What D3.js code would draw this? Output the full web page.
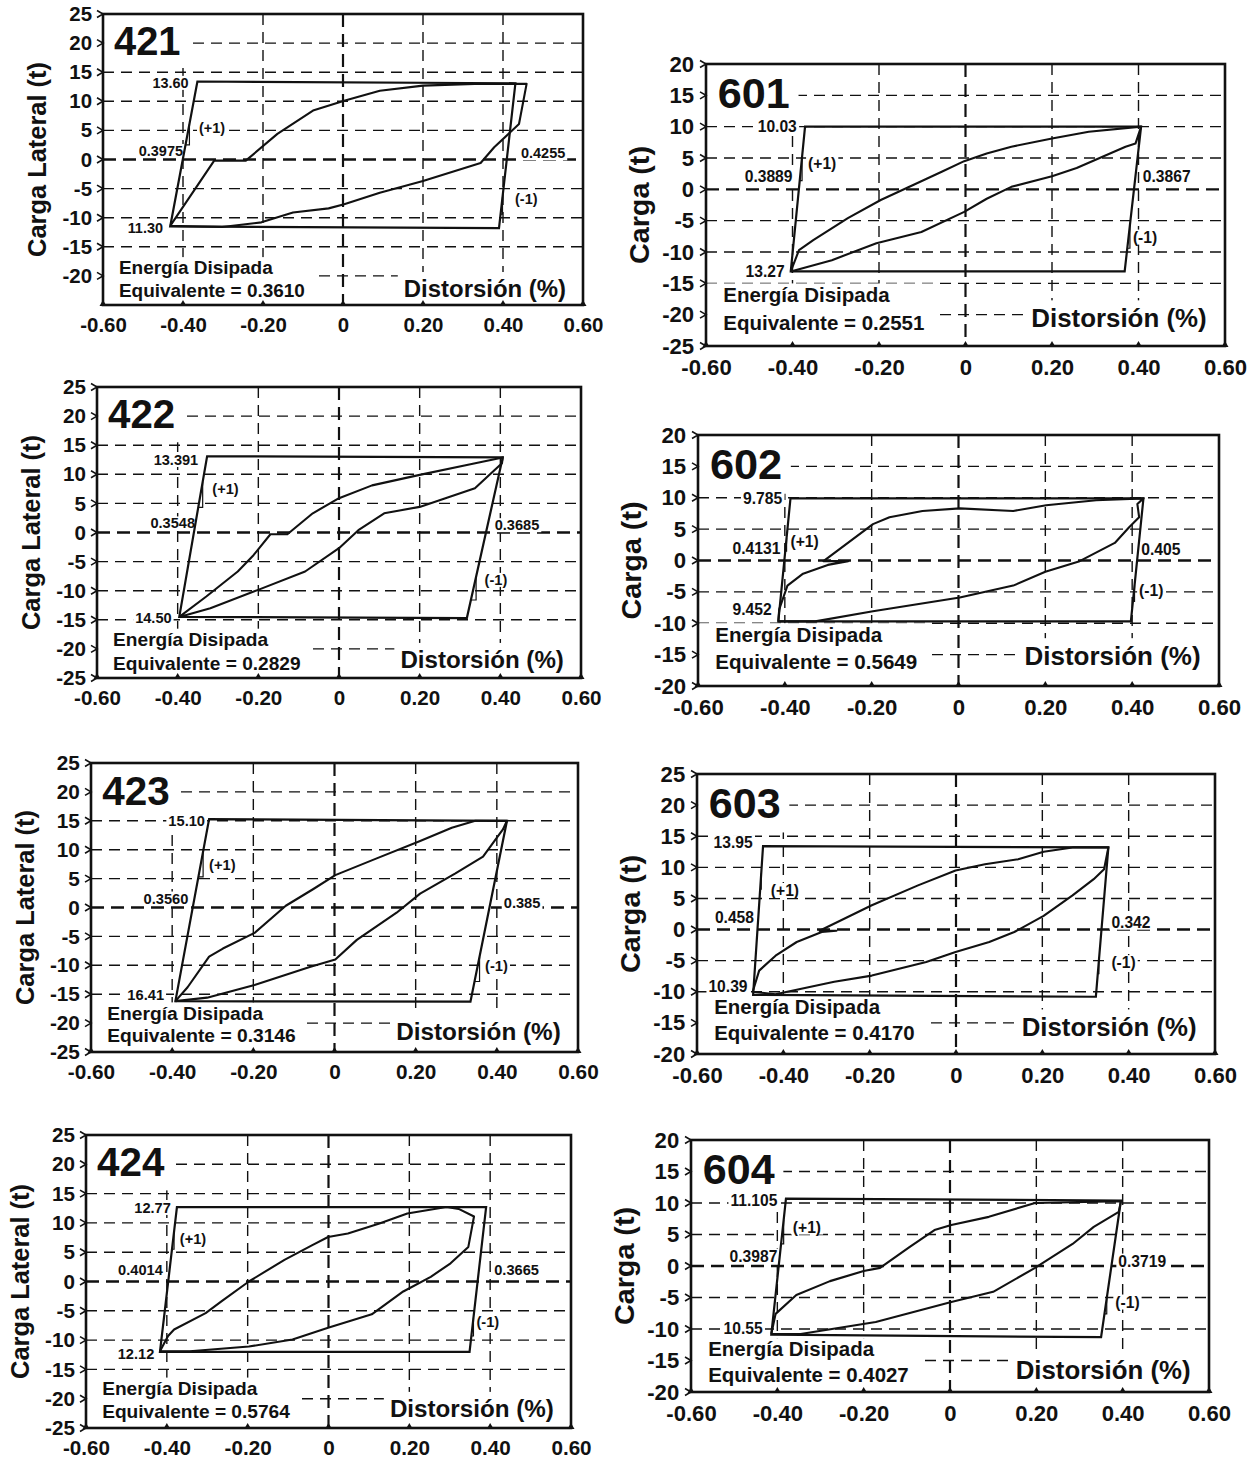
<!DOCTYPE html>
<html><head><meta charset="utf-8">
<script src="https://cdn.jsdelivr.net/npm/d3@7"></script>
<style>body{margin:0;background:#fff;}svg{display:block;}</style>
</head><body>
<svg id="c" width="1256" height="1462"></svg>
<script>
// ---------------- DATA ----------------
const xTicks = [-0.6, -0.4, -0.2, 0, 0.2, 0.4, 0.6];
const xTickLabels = ["-0.60", "-0.40", "-0.20", "0", "0.20", "0.40", "0.60"];
const xGrid = [-0.4, -0.2, 0, 0.2, 0.4];

const panelIds = ["421", "601", "422", "602", "423", "603", "424", "604"];
const yAxisTitles = ["Carga Lateral (t)", "Carga (t)", "Carga Lateral (t)", "Carga (t)",
                     "Carga Lateral (t)", "Carga (t)", "Carga Lateral (t)", "Carga (t)"];
const energyValues = ["0.3610", "0.2551", "0.2829", "0.5649", "0.3146", "0.4170", "0.5764", "0.4027"];
const peakPosLabels = ["13.60", "10.03", "13.391", "9.785", "15.10", "13.95", "12.77", "11.105"];
const peakNegLabels = ["11.30", "13.27", "14.50", "9.452", "16.41", "10.39", "12.12", "10.55"];
const kPosLabels = ["0.3975", "0.3889", "0.3548", "0.4131", "0.3560", "0.458", "0.4014", "0.3987"];
const kNegLabels = ["0.4255", "0.3867", "0.3685", "0.405", "0.385", "0.342", "0.3665", "0.3719"];

const yRange421 = [-25, 25], yRange601 = [-25, 20], yRange422 = [-25, 25], yRange602 = [-20, 20];
const yRange423 = [-25, 25], yRange603 = [-20, 25], yRange424 = [-25, 25], yRange604 = [-20, 20];

const yTicks421 = [25, 20, 15, 10, 5, 0, -5, -10, -15, -20];
const yTicks601 = [20, 15, 10, 5, 0, -5, -10, -15, -20, -25];
const yTicks422 = [25, 20, 15, 10, 5, 0, -5, -10, -15, -20, -25];
const yTicks602 = [20, 15, 10, 5, 0, -5, -10, -15, -20];
const yTicks423 = [25, 20, 15, 10, 5, 0, -5, -10, -15, -20, -25];
const yTicks603 = [25, 20, 15, 10, 5, 0, -5, -10, -15, -20];
const yTicks424 = [25, 20, 15, 10, 5, 0, -5, -10, -15, -20, -25];
const yTicks604 = [20, 15, 10, 5, 0, -5, -10, -15, -20];

// bilinear envelope: bottom-left, top-left, top-right, bottom-right  [distortion %, load t]
const env421 = [[-0.432, -11.5], [-0.364, 13.4], [0.431, 13.1], [0.390, -11.8]];
const env601 = [[-0.404, -13.1], [-0.371, 10.0], [0.406, 10.0], [0.368, -13.1]];
const env422 = [[-0.396, -14.5], [-0.327, 13.1], [0.406, 12.9], [0.317, -14.7]];
const env602 = [[-0.415, -9.7], [-0.387, 9.9], [0.426, 9.9], [0.397, -9.7]];
const env423 = [[-0.392, -16.2], [-0.309, 15.3], [0.425, 15.0], [0.335, -16.3]];
const env603 = [[-0.470, -10.5], [-0.447, 13.4], [0.353, 13.2], [0.324, -10.8]];
const env424 = [[-0.417, -12.0], [-0.375, 12.7], [0.390, 12.7], [0.349, -12.0]];
const env604 = [[-0.414, -10.9], [-0.380, 10.7], [0.396, 10.4], [0.350, -11.3]];

// hysteresis loops
const loop421 = [[-0.432, -11.4], [-0.322, -0.2], [-0.243, -0.2], [-0.164, 4.4], [-0.075, 8.4], [0.003, 10.1],
  [0.092, 11.8], [0.200, 12.7], [0.329, 13.0], [0.459, 13.0], [0.440, 6.1], [0.378, 2.1], [0.344, -0.6],
  [0.200, -3.7], [0.092, -5.7], [0.003, -7.7], [-0.036, -8.4], [-0.125, -9.1], [-0.204, -10.8],
  [-0.302, -11.6], [-0.432, -11.4]];
const loop601 = [[-0.404, -13.1], [-0.385, -9.7], [-0.352, -8.1], [-0.272, -4.6], [-0.196, -1.7], [-0.111, 1.0],
  [-0.055, 2.8], [-0.003, 4.5], [0.049, 5.7], [0.106, 6.8], [0.200, 8.1], [0.285, 9.2], [0.406, 10.0],
  [0.393, 7.3], [0.370, 6.8], [0.257, 3.4], [0.200, 2.1], [0.106, 0.4], [0.049, -1.5], [-0.003, -3.6],
  [-0.102, -6.8], [-0.206, -8.6], [-0.309, -11.3], [-0.404, -13.1]];
const loop422 = [[-0.396, -14.5], [-0.329, -11.0], [-0.251, -6.7], [-0.212, -3.9], [-0.170, -0.3], [-0.128, -0.3],
  [-0.065, 3.3], [0.000, 5.9], [0.082, 8.1], [0.200, 9.9], [0.317, 11.6], [0.406, 12.9], [0.404, 11.9],
  [0.337, 7.6], [0.200, 4.4], [0.112, 3.3], [0.048, 0.4], [0.000, -2.7], [-0.084, -6.7], [-0.202, -9.9],
  [-0.319, -13.0], [-0.396, -14.5]];
const loop602 = [[-0.415, -9.7], [-0.413, -7.8], [-0.394, -4.0], [-0.358, -2.1], [-0.301, -0.7], [-0.254, -0.1],
  [-0.311, -0.1], [-0.197, 5.8], [-0.159, 6.9], [-0.083, 7.9], [0.003, 8.3], [0.126, 7.9], [0.202, 8.8],
  [0.317, 9.6], [0.426, 9.9], [0.412, 9.0], [0.416, 6.9], [0.393, 5.3], [0.360, 2.8], [0.279, -0.1],
  [0.200, -1.8], [0.126, -4.0], [0.003, -5.9], [-0.197, -8.1], [-0.330, -9.7], [-0.415, -9.7]];
const loop423 = [[-0.392, -16.2], [-0.362, -13.8], [-0.309, -8.5], [-0.275, -7.1], [-0.197, -4.4], [-0.120, 0.3],
  [-0.052, 3.2], [0.002, 5.6], [0.104, 8.5], [0.211, 11.5], [0.289, 13.8], [0.347, 15.0], [0.425, 15.0],
  [0.415, 13.5], [0.366, 8.8], [0.298, 5.9], [0.211, 2.4], [0.153, -0.9], [0.055, -5.6], [0.002, -9.0],
  [-0.061, -10.3], [-0.197, -13.4], [-0.314, -15.6], [-0.392, -16.2]];
const loop603 = [[-0.471, -10.0], [-0.456, -6.6], [-0.418, -4.2], [-0.369, -2.0], [-0.311, -0.4], [-0.277, -0.2],
  [-0.316, -0.2], [-0.195, 3.9], [-0.088, 7.1], [-0.001, 9.5], [0.067, 10.5], [0.144, 11.3], [0.203, 12.5],
  [0.270, 13.2], [0.353, 13.2], [0.343, 9.7], [0.319, 8.1], [0.270, 5.5], [0.203, 2.2], [0.135, -0.4],
  [0.077, -2.0], [-0.001, -3.6], [-0.069, -5.2], [-0.195, -7.4], [-0.282, -8.4], [-0.418, -10.4], [-0.471, -10.0]];
const loop424 = [[-0.417, -11.9], [-0.397, -9.3], [-0.382, -8.2], [-0.304, -5.4], [-0.265, -3.4], [-0.197, 0.0],
  [-0.109, 3.7], [-0.040, 6.2], [-0.001, 7.6], [0.048, 8.2], [0.126, 9.9], [0.195, 11.6], [0.292, 12.7],
  [0.322, 12.4], [0.360, 11.1], [0.346, 5.9], [0.302, 3.1], [0.253, 0.8], [0.185, -1.7], [0.107, -5.6],
  [-0.001, -7.9], [-0.089, -9.9], [-0.197, -11.1], [-0.343, -11.9], [-0.417, -11.9]];
const loop604 = [[-0.414, -10.8], [-0.404, -7.6], [-0.356, -4.6], [-0.278, -2.4], [-0.200, -0.8], [-0.162, -0.3],
  [-0.094, 3.0], [-0.036, 5.7], [0.003, 6.5], [0.090, 7.8], [0.197, 10.0], [0.396, 10.3], [0.391, 8.6],
  [0.333, 6.2], [0.284, 3.5], [0.197, -0.3], [0.100, -4.1], [0.003, -5.7], [-0.172, -8.9], [-0.346, -10.8],
  [-0.414, -10.8]];

// stiffness-ratio markers (+1 on loading side, -1 on unloading side): load span [from, to]
const slopePos421 = [2.5, 6.1], slopeNeg421 = [-9.4, -6.5];
const slopePos601 = [1.4, 5.2], slopeNeg601 = [-9.4, -5.7];
const slopePos422 = [4.3, 8.7], slopeNeg422 = [-11.6, -7.6];
const slopePos602 = [1.5, 3.6], slopeNeg602 = [-6.5, -4.0];
const slopePos423 = [5.3, 9.7], slopeNeg423 = [-12.8, -8.5];
const slopePos603 = [6.5, 9.0], slopeNeg603 = [-7.1, -5.0];
const slopePos424 = [5.5, 8.5], slopeNeg424 = [-9.3, -6.2];
const slopePos604 = [3.5, 7.3], slopeNeg604 = [-7.6, -5.1];

// annotation anchors (data units): peakPos, kPos, peakNeg, kNeg, (+1), (-1)
const annot421 = [[-0.386, 13.2], [-0.40, 1.5], [-0.45, -11.7], [0.445, 1.1], [-0.36, 5.5], [0.43, -6.8]];
const annot601 = [[-0.39, 10.0], [-0.40, 2.0], [-0.418, -13.1], [0.41, 2.0], [-0.364, 4.1], [0.387, -7.6]];
const annot422 = [[-0.349, 12.5], [-0.357, 1.6], [-0.415, -14.7], [0.386, 1.3], [-0.314, 7.6], [0.361, -8.1]];
const annot602 = [[-0.406, 9.9], [-0.41, 2.0], [-0.43, -7.8], [0.421, 1.7], [-0.387, 3.1], [0.416, -4.8]];
const annot423 = [[-0.319, 15.0], [-0.36, 1.6], [-0.42, -15.1], [0.417, 0.8], [-0.309, 7.4], [0.371, -10.0]];
const annot603 = [[-0.471, 14.0], [-0.468, 2.0], [-0.483, -9.2], [0.36, 1.2], [-0.429, 6.3], [0.36, -5.3]];
const annot424 = [[-0.39, 12.6], [-0.41, 2.0], [-0.431, -12.3], [0.41, 2.0], [-0.368, 7.3], [0.366, -6.8]];
const annot604 = [[-0.40, 10.4], [-0.40, 1.6], [-0.434, -9.9], [0.39, 0.8], [-0.364, 6.2], [0.383, -5.7]];

// ---------------- LAYOUT (pixels) ----------------
// frame [left, right, top, bottom]; text baseline offsets from bottom [energy1, energy2, distorsion]
const frames = {
  "421": [103, 583, 14, 305], "601": [706, 1225, 64, 346],
  "422": [97, 581, 387, 678], "602": [698, 1219, 435, 686],
  "423": [91, 578, 763, 1052], "603": [697, 1215, 774, 1054],
  "424": [86, 571, 1135, 1428], "604": [691, 1209, 1140, 1392]
};
const textOffsets = {
  "421": [31, 8, 8], "601": [41, 15, 18], "422": [32, 8, 10], "602": [41, 16, 19],
  "423": [32, 10, 12], "603": [37, 13, 17], "424": [33, 10, 11], "604": [33, 9, 12]
};

const panels = panelIds.map((id, i) => ({
  id, title: yAxisTitles[i], energy: energyValues[i],
  labels: [peakPosLabels[i], kPosLabels[i], peakNegLabels[i], kNegLabels[i], "(+1)", "(-1)"],
  yRange: eval("yRange" + id), yTicks: eval("yTicks" + id),
  env: eval("env" + id), loop: eval("loop" + id),
  slopePos: eval("slopePos" + id), slopeNeg: eval("slopeNeg" + id),
  annot: eval("annot" + id)
}));

// ---------------- DRAW ----------------
const svg = d3.select("#c");
const FONT = "'Liberation Sans', Arial, Helvetica, sans-serif";
const NARROW = "'Liberation Sans Narrow', 'Arial Narrow', 'Liberation Sans', Arial, sans-serif";
const INK = "#111";

function drawPanel(p) {
  const [L, R, T, B] = frames[p.id];
  const [o1, o2, o3] = textOffsets[p.id];
  const s = (R - L) / 481;
  const x = d3.scaleLinear().domain([-0.6, 0.6]).range([L, R]);
  const y = d3.scaleLinear().domain(p.yRange).range([B, T]);
  const root = svg.append("g").attr("class", "panel-" + p.id);
  const gGrid = root.append("g"), gBg = root.append("g"), gCurve = root.append("g"),
        gText = root.append("g"), gAxis = root.append("g");

  // grid
  const hLines = d3.range(p.yRange[0] + 5, p.yRange[1], 5);
  gGrid.selectAll("line.h").data(hLines).join("line")
    .attr("x1", L).attr("x2", R).attr("y1", d => y(d)).attr("y2", d => y(d))
    .attr("stroke", INK).attr("stroke-width", d => d === 0 ? 2.4 : 1.4)
    .attr("stroke-dasharray", d => d === 0 ? "13,7" : "11,7");
  gGrid.selectAll("line.v").data(xGrid).join("line")
    .attr("x1", d => x(d)).attr("x2", d => x(d)).attr("y1", T).attr("y2", B)
    .attr("stroke", INK).attr("stroke-width", d => d === 0 ? 2.2 : 1.4)
    .attr("stroke-dasharray", d => d === 0 ? "13,7" : "11,7");

  // panel id
  const idT = gText.append("text").attr("x", L + 11 * s).attr("y", T + 41 * s)
    .attr("font-family", FONT).attr("font-weight", "bold").attr("font-size", 40 * s)
    .attr("fill", INK).text(p.id);
  const ib = idT.node().getBBox();
  gBg.append("rect").attr("x", L + 1).attr("y", T + 1).attr("width", ib.x + ib.width + 8 * s - L - 1)
    .attr("height", ib.y + ib.height + 4 * s - T).attr("fill", "#fff");

  // energy text
  const e1 = gText.append("text").attr("x", L + 16 * s).attr("y", B - o1 * s)
    .attr("font-family", FONT).attr("font-weight", "bold").attr("font-size", 19 * s)
    .attr("fill", INK).text("Energía Disipada");
  const e2 = gText.append("text").attr("x", L + 16 * s).attr("y", B - o2 * s)
    .attr("font-family", FONT).attr("font-weight", "bold").attr("font-size", 19 * s)
    .attr("fill", INK).text("Equivalente = " + p.energy);
  const ew = Math.max(e1.node().getBBox().width, e2.node().getBBox().width);
  gBg.append("rect").attr("x", L + 1).attr("y", B - o1 * s - 17 * s)
    .attr("width", 16 * s + ew + 10 * s).attr("height", o1 * s + 17 * s - 1).attr("fill", "#fff");

  // distorsion label
  const dT = gText.append("text").attr("x", R - 17 * s).attr("y", B - o3 * s)
    .attr("text-anchor", "end").attr("font-family", FONT).attr("font-weight", "bold")
    .attr("font-size", 24 * s).attr("fill", INK).text("Distorsión (%)");
  const db = dT.node().getBBox();
  gBg.append("rect").attr("x", db.x - 6 * s).attr("y", db.y - 3 * s)
    .attr("width", R - db.x + 6 * s - 1).attr("height", B - db.y + 3 * s - 1).attr("fill", "#fff");

  // annotations
  const anchors = ["end", "end", "end", "start", "start", "start"];
  p.labels.forEach((txt, i) => {
    const [ax, ay] = p.annot[i];
    const t = gText.append("text").attr("x", x(ax)).attr("y", y(ay)).attr("dy", "0.36em")
      .attr("text-anchor", anchors[i]).attr("font-family", FONT).attr("font-weight", "bold")
      .attr("font-size", 14.5 * s).attr("fill", INK).text(txt);
    const b = t.node().getBBox();
    gBg.append("rect").attr("x", b.x - 2).attr("y", b.y + 1).attr("width", b.width + 4)
      .attr("height", b.height - 2).attr("fill", "#fff");
  });

  // envelope
  const line = d3.line().x(d => x(d[0])).y(d => y(d[1]));
  gCurve.append("path").attr("d", line(p.env) + "Z").attr("fill", "none")
    .attr("stroke", INK).attr("stroke-width", 2.2).attr("stroke-linejoin", "miter");
  // loop
  gCurve.append("path").attr("d", line(p.loop)).attr("fill", "none")
    .attr("stroke", INK).attr("stroke-width", 2.1).attr("stroke-linejoin", "round");

  // slope markers
  function sideX(a, b, v) { return a[0] + (b[0] - a[0]) * (v - a[1]) / (b[1] - a[1]); }
  function marker(a, b, span) {
    const [v1, v2] = span;
    const xa = sideX(a, b, v1), xb = sideX(a, b, v2);
    gCurve.append("path").attr("d", line([[xa, v1], [xb, v1], [xb, v2]]))
      .attr("fill", "none").attr("stroke", INK).attr("stroke-width", 1.2);
  }
  marker(p.env[0], p.env[1], p.slopePos);
  marker(p.env[3], p.env[2], p.slopeNeg);

  // frame
  gAxis.append("rect").attr("x", L).attr("y", T).attr("width", R - L).attr("height", B - T)
    .attr("fill", "none").attr("stroke", INK).attr("stroke-width", 2.6);

  // y axis
  const ya = d3.axisLeft(y).tickValues(p.yTicks).tickSize(0).tickPadding(11 * s).tickFormat(d => d);
  const yg = gAxis.append("g").attr("transform", `translate(${L},0)`).call(ya);
  yg.select(".domain").remove();
  yg.selectAll("text").attr("font-family", NARROW).attr("font-weight", "bold")
    .attr("font-size", 20.5 * s).attr("fill", INK);
  gAxis.selectAll("path.yt").data(p.yTicks).join("path")
    .attr("d", d => `M${L - 6},${y(d) - 3.5}L${L},${y(d)}L${L - 6},${y(d) + 3.5}`)
    .attr("fill", "none").attr("stroke", INK).attr("stroke-width", 1.6);

  // x axis
  const xa = d3.axisBottom(x).tickValues(xTicks).tickSize(0).tickFormat((d, i) => xTickLabels[i]);
  const xg = gAxis.append("g").attr("transform", `translate(0,${B})`).call(xa);
  xg.select(".domain").remove();
  xg.selectAll("text").attr("y", 27 * s).attr("dy", 0).attr("font-family", NARROW)
    .attr("font-weight", "bold").attr("font-size", 20.5 * s).attr("fill", INK);
  gAxis.selectAll("path.xt").data(xTicks).join("path")
    .attr("d", d => `M${x(d) - 3.5},${B + 1}L${x(d) + 3.5},${B + 1}L${x(d)},${B - 5}Z`)
    .attr("fill", INK);

  // y title
  const cy = (T + B) / 2, cx = L - 66;
  gAxis.append("text").attr("transform", `translate(${cx},${cy}) rotate(-90)`)
    .attr("text-anchor", "middle").attr("dy", "0.35em")
    .attr("font-family", FONT).attr("font-weight", "bold").attr("font-size", 25 * s)
    .attr("textLength", p.title.length > 10 ? 195 : 118).attr("lengthAdjust", "spacingAndGlyphs")
    .attr("fill", INK).text(p.title);
}

panels.forEach(drawPanel);
</script>
</body></html>
